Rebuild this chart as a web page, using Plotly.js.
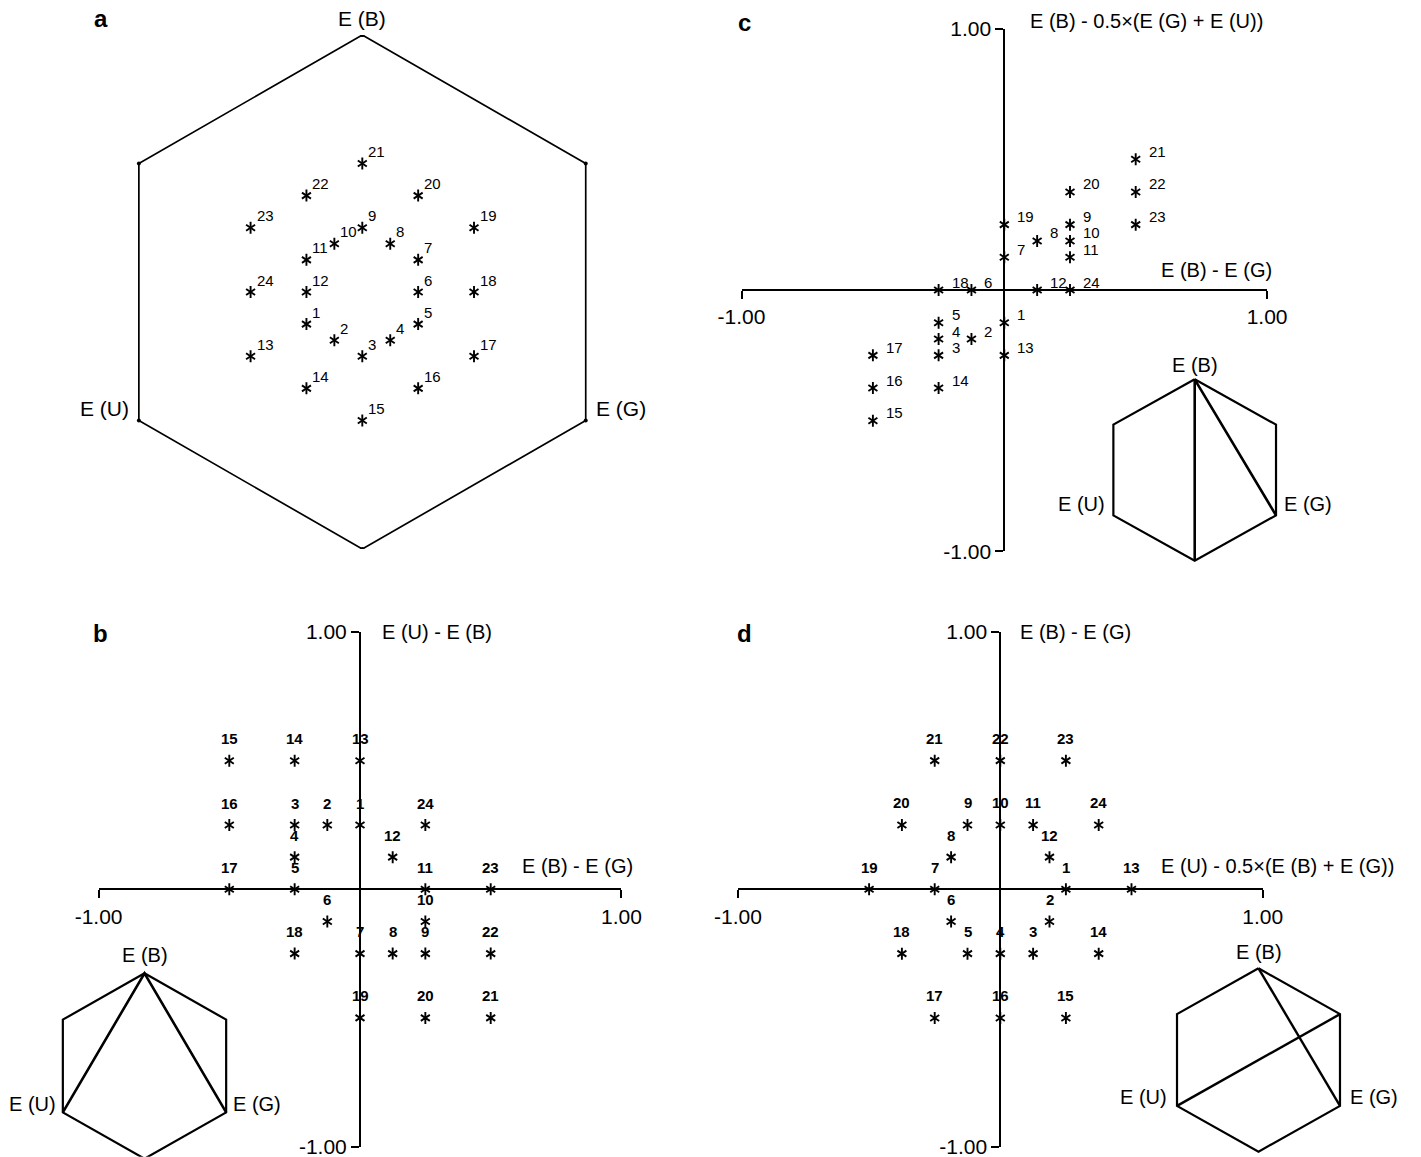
<!DOCTYPE html>
<html><head><meta charset="utf-8">
<script src="https://cdn.plot.ly/plotly-3.0.1.min.js"></script>
<style>html,body{margin:0;padding:0;background:#fff}</style>
</head><body><div id="chart" style="width:1421px;height:1157px"></div>
<script>
// ---------------- data ----------------
const pointLabels = ['1','2','3','4','5','6','7','8','9','10','11','12','13','14','15','16','17','18','19','20','21','22','23','24'];

// panel a: positions inside the E(B)/E(G)/E(U) hexagon (hexagon radius = 1)
const aX = [-0.2165,-0.1083,0,0.1083,0.2165,0.2165,0.2165,0.1083,0,-0.1083,-0.2165,-0.2165,-0.433,-0.2165,0,0.2165,0.433,0.433,0.433,0.2165,0,-0.2165,-0.433,-0.433];
const aY = [-0.125,-0.1875,-0.25,-0.1875,-0.125,0,0.125,0.1875,0.25,0.1875,0.125,0,-0.25,-0.375,-0.5,-0.375,-0.25,0,0.25,0.375,0.5,0.375,0.25,0];

// panel b: x = E(B)-E(G), y = E(U)-E(B)
const bX = [0,-0.125,-0.25,-0.25,-0.25,-0.125,0,0.125,0.25,0.25,0.25,0.125,0,-0.25,-0.5,-0.5,-0.5,-0.25,0,0.25,0.5,0.5,0.5,0.25];
const bY = [0.25,0.25,0.25,0.125,0,-0.125,-0.25,-0.25,-0.25,-0.125,0,0.125,0.5,0.5,0.5,0.25,0,-0.25,-0.5,-0.5,-0.5,-0.25,0,0.25];

// panel c: x = E(B)-E(G), y = E(B)-0.5x(E(G)+E(U))
const cX = [0,-0.125,-0.25,-0.25,-0.25,-0.125,0,0.125,0.25,0.25,0.25,0.125,0,-0.25,-0.5,-0.5,-0.5,-0.25,0,0.25,0.5,0.5,0.5,0.25];
const cY = [-0.125,-0.1875,-0.25,-0.1875,-0.125,0,0.125,0.1875,0.25,0.1875,0.125,0,-0.25,-0.375,-0.5,-0.375,-0.25,0,0.25,0.375,0.5,0.375,0.25,0];

// panel d: x = E(U)-0.5x(E(B)+E(G)), y = E(B)-E(G)
const dX = [0.25,0.1875,0.125,0,-0.125,-0.1875,-0.25,-0.1875,-0.125,0,0.125,0.1875,0.5,0.375,0.25,0,-0.25,-0.375,-0.5,-0.375,-0.25,0,0.25,0.375];
const dY = [0,-0.125,-0.25,-0.25,-0.25,-0.125,0,0.125,0.25,0.25,0.25,0.125,0,-0.25,-0.5,-0.5,-0.5,-0.25,0,0.25,0.5,0.5,0.5,0.25];

// hexagon outline (top, upper-right, lower-right, bottom, lower-left, upper-left, top)
const hexX = [0,0.866,0.866,0,-0.866,-0.866,0];
const hexY = [1,0.5,-0.5,-1,-0.5,0.5,1];
const vertexNames = ['E (B)','E (G)','E (U)'];
const vertexIdx = [0,2,4];

// inner lines of the small hexagons
const bLineX = [-0.866,0,0.866];           const bLineY = [-0.5,1,-0.5];
const cLineX = [0,0,0.866];                const cLineY = [-1,1,-0.5];
const dLineX = [0,0.866,null,-0.866,0.866]; const dLineY = [1,-0.5,null,-0.5,0.5];

const tickVals = [-1,1];
const tickText = ['-1.00','1.00'];
const panelLetters = ['a','b','c','d'];
const bTitles = {x:'E (B) - E (G)', y:'E (U) - E (B)'};
const cTitles = {x:'E (B) - E (G)', y:'E (B) - 0.5\u00d7(E (G) + E (U))'};
const dTitles = {x:'E (U) - 0.5\u00d7(E (B) + E (G))', y:'E (B) - E (G)'};

// ---------------- geometry ----------------
const W = 1421, H = 1157;
const FONT = 'Liberation Sans, Arial, Helvetica, sans-serif';
const G = {
  a:  {cx:362.3, cy:292,   sx:258,   sy:257,   xr:[-1,1],     yr:[-1,1]},
  b:  {cx:360,   cy:889.3, sx:261.4, sy:257.2, xr:[-1,1],     yr:[-1,1]},
  c:  {cx:1004.3,cy:290,   sx:262.8, sy:261.4, xr:[-1,1],     yr:[-1,1]},
  d:  {cx:1000.3,cy:889.3, sx:262.4, sy:257.3, xr:[-1,1],     yr:[-1,1]},
  ib: {cx:144.5, cy:1066,  sx:94.3,  sy:92.7,  xr:[-1.1,1.1], yr:[-0.98,1.1]},
  ic: {cx:1194.7,cy:470,   sx:93.9,  sy:90.7,  xr:[-1.1,1.1], yr:[-1.1,1.1]},
  id: {cx:1258.5,cy:1060,  sx:94.1,  sy:91.7,  xr:[-1.1,1.1], yr:[-1.05,1.05]}
};
const clamp = v => Math.max(0, Math.min(1, v));
function dom(g){
  return {
    x:[clamp((g.cx+g.xr[0]*g.sx)/W), clamp((g.cx+g.xr[1]*g.sx)/W)],
    y:[clamp(1-(g.cy-g.yr[0]*g.sy)/H), clamp(1-(g.cy-g.yr[1]*g.sy)/H)]
  };
}
function hiddenAxes(g, partnerX, partnerY){
  const d = dom(g);
  return [
    {domain:d.x, range:g.xr, visible:false, anchor:partnerY, fixedrange:true},
    {domain:d.y, range:g.yr, visible:false, anchor:partnerX, fixedrange:true}
  ];
}
function crossAxes(g){
  const d = dom(g);
  const common = {showline:true, linewidth:2, linecolor:'#000', ticks:'outside', ticklen:8, tickwidth:2,
    tickcolor:'#000', tickmode:'array', tickvals:tickVals, ticktext:tickText, showgrid:false, zeroline:false,
    tickfont:{family:FONT, size:21, color:'#000'}, ticklabeloverflow:'allow', fixedrange:true, anchor:'free'};
  return [
    Object.assign({}, common, {domain:d.x, range:g.xr, position:1-g.cy/H, side:'bottom'}),
    Object.assign({}, common, {domain:d.y, range:g.yr, position:g.cx/W, side:'left'})
  ];
}

const layout = {
  width:W, height:H, margin:{l:0,r:0,t:0,b:0},
  paper_bgcolor:'#fff', plot_bgcolor:'rgba(0,0,0,0)', showlegend:false,
  font:{family:FONT, color:'#000'}, annotations:[]
};
[layout.xaxis, layout.yaxis] = hiddenAxes(G.a, 'x', 'y');
[layout.xaxis2, layout.yaxis2] = crossAxes(G.b);
[layout.xaxis3, layout.yaxis3] = crossAxes(G.c);
[layout.xaxis4, layout.yaxis4] = crossAxes(G.d);
[layout.xaxis5, layout.yaxis5] = hiddenAxes(G.ib, 'x5', 'y5');
[layout.xaxis6, layout.yaxis6] = hiddenAxes(G.ic, 'x6', 'y6');
[layout.xaxis7, layout.yaxis7] = hiddenAxes(G.id, 'x7', 'y7');

const traces = [];
function stars(x, y, xa, ya){
  ['y-up-open','y-down-open'].forEach(sym => traces.push({
    type:'scatter', mode:'markers', x:x, y:y, xaxis:xa, yaxis:ya, hoverinfo:'skip', cliponaxis:false,
    marker:{symbol:sym, size:7.5, color:'#000', line:{color:'#000', width:1.9}}
  }));
}
function labels(x, y, xa, ya, opt){
  x.forEach((xv, i) => layout.annotations.push({
    x:xv, y:y[i], xref:xa, yref:ya, text:pointLabels[i], showarrow:false,
    xanchor:opt.xanchor, yanchor:'middle', xshift:opt.xshift, yshift:opt.yshift,
    font:{family:FONT, size:opt.size, color:'#000', weight:opt.weight}
  }));
}
function hexagon(xa, ya, width, withDots){
  traces.push({type:'scatter', mode: withDots ? 'lines+markers' : 'lines', x:hexX, y:hexY, xaxis:xa, yaxis:ya,
    hoverinfo:'skip', line:{color:'#000', width:width}, marker:{size:4, color:'#000'}});
}
function vertexLabels(xa, ya, opt){
  const pos = [
    {xanchor:'center', yanchor:'middle', xshift:0, yshift:opt.top},
    {xanchor:'left', yanchor:'middle', xshift:opt.side, yshift:opt.up},
    {xanchor:'right', yanchor:'middle', xshift:-opt.side, yshift:opt.up}
  ];
  vertexNames.forEach((t, k) => layout.annotations.push(Object.assign({
    x:hexX[vertexIdx[k]], y:hexY[vertexIdx[k]], xref:xa, yref:ya, text:t, showarrow:false,
    font:{family:FONT, size:opt.size, color:'#000'}
  }, pos[k])));
}

// panel a
hexagon('x', 'y', 1.7, true);
stars(aX, aY, 'x', 'y');
labels(aX, aY, 'x', 'y', {xanchor:'left', xshift:4, yshift:12, size:15, weight:'normal'});
vertexLabels('x', 'y', {top:17, side:8, up:12, size:21});

// panel b
stars(bX, bY, 'x2', 'y2');
labels(bX, bY, 'x2', 'y2', {xanchor:'center', xshift:0, yshift:22, size:15, weight:'bold'});
hexagon('x5', 'y5', 2.2, false);
traces.push({type:'scatter', mode:'lines', x:bLineX, y:bLineY, xaxis:'x5', yaxis:'y5', hoverinfo:'skip', line:{color:'#000', width:2.6}});
vertexLabels('x5', 'y5', {top:18, side:5, up:8, size:20});

// panel c
stars(cX, cY, 'x3', 'y3');
labels(cX, cY, 'x3', 'y3', {xanchor:'left', xshift:11, yshift:8, size:15, weight:'normal'});
hexagon('x6', 'y6', 2.2, false);
traces.push({type:'scatter', mode:'lines', x:cLineX, y:cLineY, xaxis:'x6', yaxis:'y6', hoverinfo:'skip', line:{color:'#000', width:2.6}});
vertexLabels('x6', 'y6', {top:14, side:6, up:11, size:20});

// panel d
stars(dX, dY, 'x4', 'y4');
labels(dX, dY, 'x4', 'y4', {xanchor:'center', xshift:0, yshift:22, size:15, weight:'bold'});
hexagon('x7', 'y7', 2.2, false);
traces.push({type:'scatter', mode:'lines', x:dLineX, y:dLineY, xaxis:'x7', yaxis:'y7', hoverinfo:'skip', line:{color:'#000', width:2.4}, connectgaps:false});
vertexLabels('x7', 'y7', {top:16, side:8, up:9, size:20});

// axis titles
function axisTitles(t, xa, ya, o){
  layout.annotations.push({x:0, y:1, xref:xa, yref:ya, text:t.y, showarrow:false, xanchor:'left', yanchor:'middle',
    xshift:o.yx, yshift:o.yy, font:{family:FONT, size:20, color:'#000'}});
  layout.annotations.push({x:1, y:0, xref:xa, yref:ya, text:t.x, showarrow:false, xanchor:'right', yanchor:'middle',
    xshift:o.xx, yshift:o.xy, font:{family:FONT, size:20, color:'#000'}});
}
axisTitles(bTitles, 'x2', 'y2', {yx:20, yy:0, xx:14, xy:23});
axisTitles(cTitles, 'x3', 'y3', {yx:24, yy:8, xx:7, xy:20});
axisTitles(dTitles, 'x4', 'y4', {yx:18, yy:0, xx:133, xy:23});

// panel letters
const letterPos = [[101,19],[100,633],[745,22],[745,633]];
panelLetters.forEach((l, i) => layout.annotations.push({
  x:letterPos[i][0]/W, y:1-letterPos[i][1]/H, xref:'paper', yref:'paper', text:'<b>'+l+'</b>', showarrow:false,
  xanchor:'center', yanchor:'middle', font:{family:FONT, size:24, color:'#000'}
}));

Plotly.newPlot('chart', traces, layout, {staticPlot:true, displayModeBar:false});
</script></body></html>
